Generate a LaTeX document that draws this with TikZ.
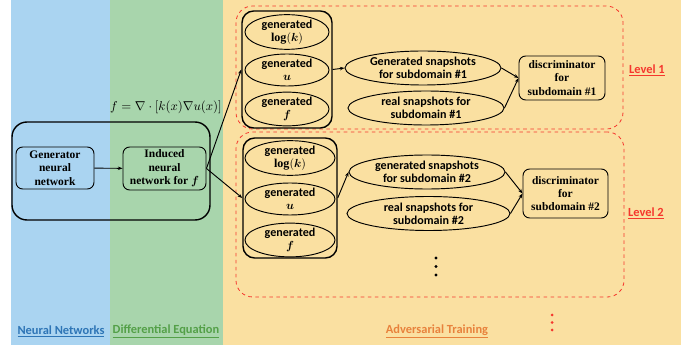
\documentclass[tikz,border=0pt]{standalone}
\usepackage{amsmath,amssymb}
\usepackage{fontspec}
\setmainfont{Liberation Serif}
\setsansfont{Carlito}
\usepackage{tikz}
\usetikzlibrary{arrows.meta, shapes.geometric, positioning}

\definecolor{nnblue}{RGB}{170,212,241}
\definecolor{degreen}{RGB}{168,213,172}
\definecolor{advyellow}{RGB}{250,224,161}
\definecolor{nntext}{RGB}{46,117,182}
\definecolor{detext}{RGB}{84,160,72}
\definecolor{advtext}{RGB}{232,130,60}
\definecolor{levred}{RGB}{245,55,45}

\tikzset{
    sansb/.style={font=\sffamily\bfseries\fontsize{10.3}{11.2}\selectfont, align=center},
    serifb/.style={font=\rmfamily\bfseries\fontsize{9.8}{11.4}\selectfont, align=center},
    genell/.style={ellipse, draw, thick, inner sep=0pt, minimum width=2.52cm, minimum height=0.96cm, sansb},
    snapell/.style={ellipse, draw, thick, inner sep=0pt, minimum width=4.68cm, minimum height=1.02cm, sansb},
    netbox/.style={draw, thick, rounded corners=0.2cm, inner sep=0pt, serifb},
    colbox/.style={draw, very thick, rounded corners=0.35cm, inner sep=0pt},
    levbox/.style={draw=levred, dashed, line width=0.7pt, rounded corners=0.5cm, inner sep=0pt},
    conn/.style={thick, -{Stealth[length=4pt]}},
    steplabel/.style={font=\sffamily\bfseries\fontsize{10.6}{12}\selectfont}
}

\begin{document}
\begin{tikzpicture}[x=0.03cm, y=-0.03cm]
    \useasboundingbox (0,0) rectangle (696,345);
    % backgrounds
    \fill[nnblue] (11,0) rectangle (110,345);
    \fill[degreen] (110,0) rectangle (223,345);
    \fill[advyellow] (223,0) rectangle (681,345);

    % level frames
    \node[levbox, minimum width=11.61cm, minimum height=3.69cm] (lev1) at (429.5,67.5) {};
    \node[levbox, minimum width=11.64cm, minimum height=4.95cm] (lev2) at (430,214.5) {};

    % neural networks
    \node[draw, very thick, rounded corners=0.45cm, minimum width=5.94cm, minimum height=2.94cm] (nnall) at (111,171) {};
    \node[netbox, minimum width=2.34cm, minimum height=1.26cm] (gen) at (55,168) {Generator\\neural\\network};
    \node[netbox, minimum width=2.49cm, minimum height=1.29cm] (ind) at (164.5,168.5) {Induced\\neural\\network for $\boldsymbol{f}$};
    \draw[conn] (gen) -- (ind);
    \node[font=\fontsize{10.7}{12}\selectfont] (pde) at (166,107) {$f=\nabla\cdot[k(x)\nabla u(x)]$};

    % level 1
    \node[colbox, minimum width=2.7cm, minimum height=3.51cm] (col1) at (287,69.5) {};
    \node[genell] (logk1) at (287,32) {generated\\$\mathbf{log}(\boldsymbol{k})$};
    \node[genell] (u1) at (287,70) {generated\\$\boldsymbol{u}$};
    \node[genell] (f1) at (287,109) {generated\\$\boldsymbol{f}$};
    \node[snapell] (gs1) at (423,68) {Generated snapshots\\for subdomain \#1};
    \node[snapell] (rs1) at (426,108) {real snapshots for\\subdomain \#1};
    \node[netbox, minimum width=2.58cm, minimum height=1.32cm] (disc1) at (562,78) {discriminator\\for\\subdomain \#1};
    \draw[conn] (col1.east) -- (gs1.west);
    \draw[conn] (gs1.east) -- (disc1.west);
    \draw[conn] (rs1.east) -- (disc1.west);
    \node[steplabel, text=levred] (lab1) at (647,70) {\underline{Level 1}};

    % level 2
    \node[colbox, minimum width=2.82cm, minimum height=3.6cm] (col2) at (290,198) {};
    \node[genell, minimum width=2.7cm] (logk2) at (290,158) {generated\\$\mathbf{log}(\boldsymbol{k})$};
    \node[genell, minimum width=2.7cm] (u2) at (290,199) {generated\\$\boldsymbol{u}$};
    \node[genell, minimum width=2.7cm] (f2) at (290,240) {generated\\$\boldsymbol{f}$};
    \node[snapell] (gs2) at (427,172) {generated snapshots\\for subdomain \#2};
    \node[snapell, minimum width=4.89cm] (rs2) at (428.5,213.5) {real snapshots for\\subdomain \#2};
    \node[netbox, minimum width=2.55cm, minimum height=1.47cm] (disc2) at (565.5,193.5) {discriminator\\for\\subdomain \#2};
    \draw[conn] (col2.east) -- (gs2.west);
    \draw[conn] (gs2.east) -- (disc2.west);
    \draw[conn] (rs2.east) -- (disc2.west);
    \node[steplabel, text=levred] (lab2) at (646,213) {\underline{Level 2}};
    \foreach \dy in {258,266.5,275}
        \fill (436,\dy) circle (1.6);

    % induced network feeds both levels
    \draw[conn] (ind.east) -- (col1.west);
    \draw[conn] (ind.east) -- (col2.west);

    % more levels
    \foreach \dy in {315,322.5,330}
        \fill[levred] (552,\dy) circle (1.5);

    % column titles
    \node[steplabel, text=nntext] (tnn) at (61,331) {\underline{Neural Networks}};
    \node[steplabel, text=detext] (tde) at (166,331) {\underline{Differential Equation}};
    \node[steplabel, text=advtext] (tadv) at (437,331) {\underline{Adversarial Training}};
\end{tikzpicture}
\end{document}
